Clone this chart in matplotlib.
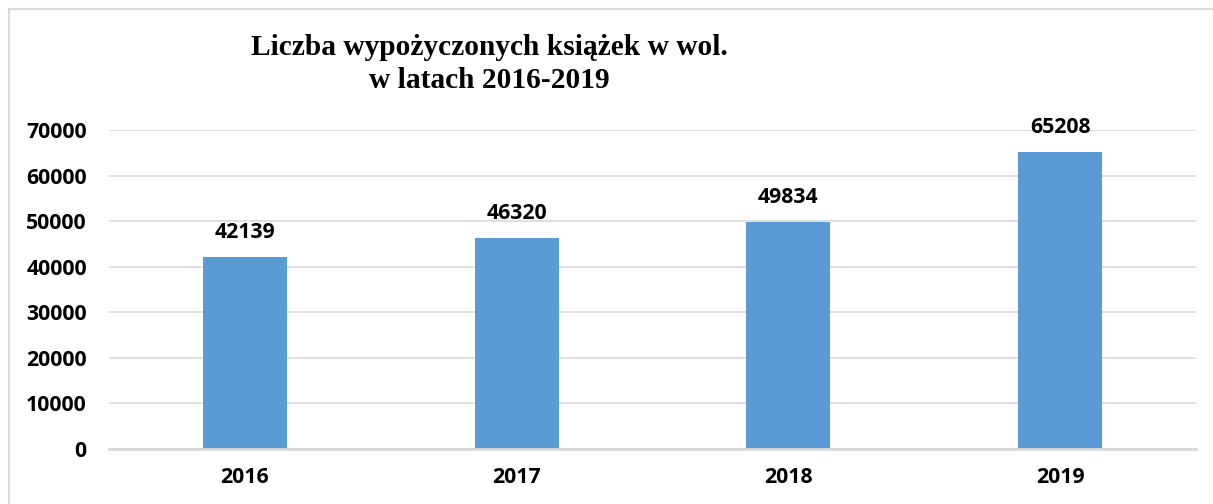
import matplotlib.pyplot as plt
from matplotlib.patches import Rectangle

years = ["2016", "2017", "2018", "2019"]
books = [42139, 46320, 49834, 65208]
yticks = [0, 10000, 20000, 30000, 40000, 50000, 60000, 70000]

W, H = 1213, 504
fig = plt.figure(figsize=(W / 100, H / 100), dpi=100)
ax = fig.add_axes([109 / W, 55 / H, (1196 - 109) / W, (449 - 130) / H])

x = range(len(years))
ax.bar(x, books, width=0.31, color="#5B9BD5", zorder=3)
ax.set_xlim(-0.5, len(years) - 0.5)
ax.set_ylim(0, 70000)
ax.set_yticks(yticks)
ax.set_xticks(list(x))
ax.set_xticklabels(years)

lab_family = ["Open Sans", "DejaVu Sans"]
lab_size = 15.3
for lbl in ax.get_xticklabels() + ax.get_yticklabels():
    lbl.set_fontfamily(lab_family)
    lbl.set_fontweight("bold")
    lbl.set_fontsize(lab_size)
ax.tick_params(axis="y", length=0, pad=16)
ax.tick_params(axis="x", length=0, pad=13)

ax.yaxis.grid(True, color="#D9D9D9", linewidth=1.2, zorder=0)
for s in ["top", "right", "left"]:
    ax.spines[s].set_visible(False)
ax.spines["bottom"].set_color("#D9D9D9")
ax.spines["bottom"].set_linewidth(2)
ax.spines["bottom"].set_zorder(4)

# etykiety wartosci nad slupkami
for i, v in enumerate(books):
    ax.annotate(str(v), (i, v), xytext=(0, 13.5), textcoords="offset points",
                ha="center", va="baseline", family=lab_family,
                weight="bold", size=lab_size)

# tytul
tfont = dict(family=["Liberation Serif", "DejaVu Serif"], weight="bold", size=21.2)
fig.text(489 / W, 1 - 55 / H, "Liczba wypożyczonych książek w wol.",
         ha="center", va="baseline", **tfont)
fig.text(489 / W, 1 - 88 / H, "w latach 2016-2019",
         ha="center", va="baseline", **tfont)

# ramka wykresu
fig.patches.append(Rectangle((9 / W, -0.2), 1.2, 1.2 - 9 / H,
                             transform=fig.transFigure, fill=False,
                             edgecolor="#D9D9D9", linewidth=1.5))

fig.savefig("out.png", dpi=100, facecolor="white")
